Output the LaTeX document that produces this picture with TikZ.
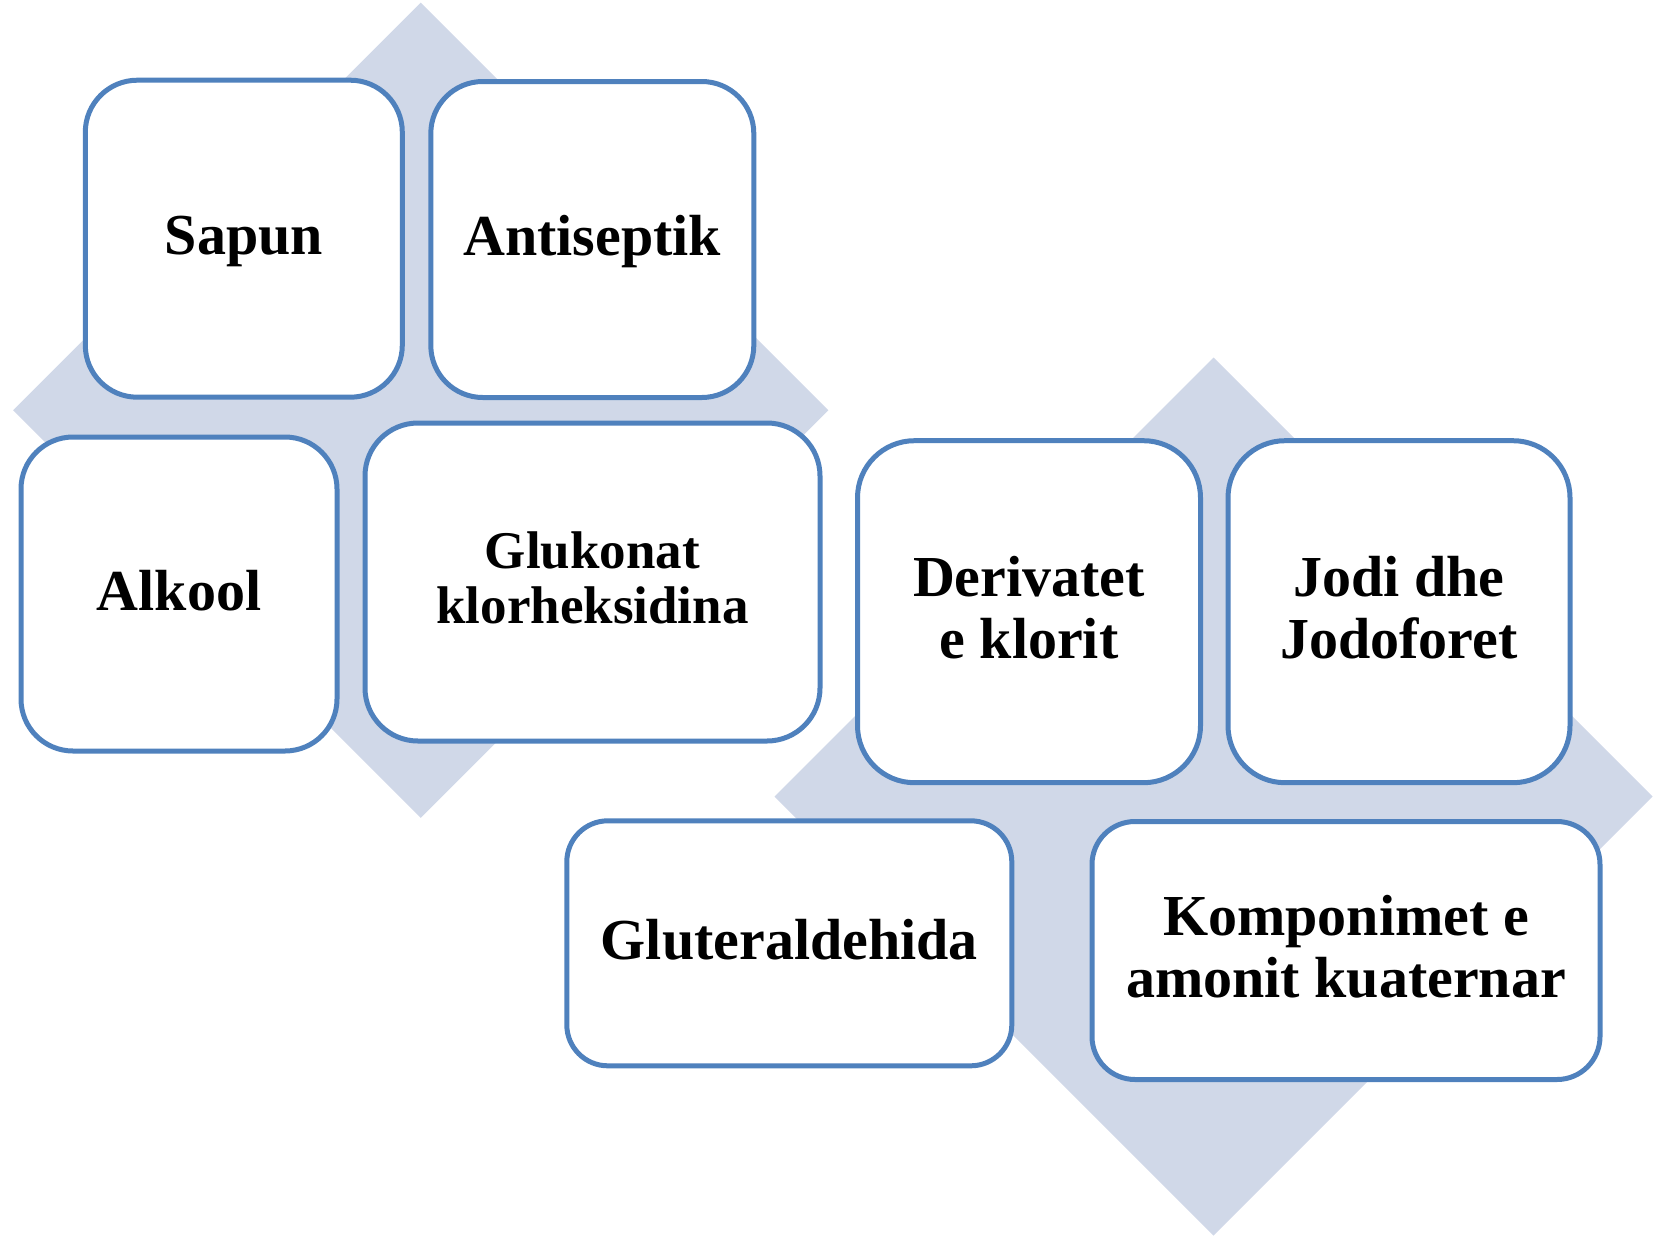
\documentclass[tikz,border=0pt]{standalone}
\usepackage{fontspec}
\setmainfont{Liberation Serif}
\definecolor{boxblue}{RGB}{79,129,189}
\definecolor{diamfill}{RGB}{208,216,232}
\newcommand{\twolines}[2]{\begin{tabular}[t]{@{}c@{}}#1\\#2\end{tabular}}
\begin{document}
\begin{tikzpicture}[x=1pt,y=-1pt,
  diam/.style={fill=diamfill, draw=none},
  box/.style={draw=boxblue, line width=5pt, fill=white, inner sep=0pt,
    align=center, font=\bfseries\fontsize{58}{61.5}\selectfont,
    text height=32pt, text depth=0pt},
  twoline/.style={text height=0pt, text depth=30pt},
  smalltext/.style={font=\bfseries\fontsize{53}{55}\selectfont,
    text height=0pt, text depth=27.4pt}]
\useasboundingbox (0,0) rectangle (1659,1237);
% background diamonds
\fill[diam] (420.8,2.6) -- (828.4,410.2) -- (420.8,817.8) -- (13.2,410.2) -- cycle;
\fill[diam] (1213.5,357.5) -- (1652.5,796.5) -- (1213.5,1235.5) -- (774.5,796.5) -- cycle;
% boxes
\node[box, rounded corners=52pt, minimum width=317pt, minimum height=317pt] (sapun) at (243.8,238.7) {Sapun};
\node[box, rounded corners=52pt, minimum width=323pt, minimum height=316pt] (anti) at (592.3,239.5) {Antiseptik};
\node[box, rounded corners=52pt, minimum width=316pt, minimum height=314pt] (alk) at (179,594) {Alkool};
\node[box, smalltext, rounded corners=53pt, minimum width=455pt, minimum height=318pt] (gluk) at (592.5,582) {\twolines{Glukonat}{klorheksidina}};
\node[box, twoline, rounded corners=57pt, minimum width=343pt, minimum height=342pt] (deriv) at (1029,611.7) {\twolines{Derivatet}{e klorit}};
\node[box, twoline, rounded corners=57pt, minimum width=342pt, minimum height=342pt] (jodi) at (1399,611.7) {\twolines{Jodi dhe}{Jodoforet}};
\node[box, rounded corners=41pt, minimum width=445pt, minimum height=245pt] (gluter) at (789.3,943.3) {Gluteraldehida};
\node[box, twoline, rounded corners=43pt, minimum width=508pt, minimum height=258pt] (komp) at (1346,950.5) {\twolines{Komponimet e}{amonit kuaternar}};
\end{tikzpicture}
\end{document}
